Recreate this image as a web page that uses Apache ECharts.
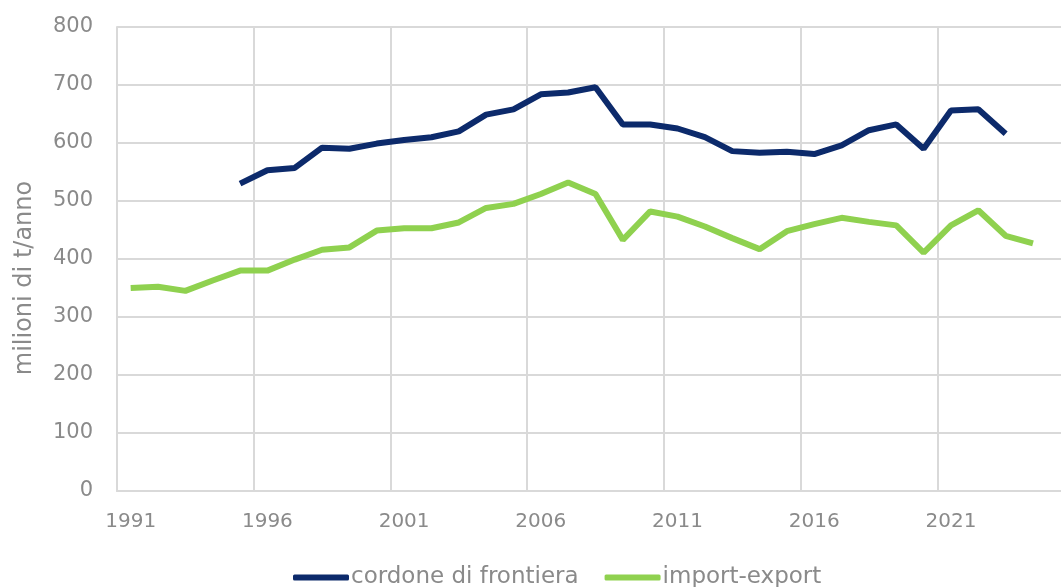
<!DOCTYPE html>
<html>
<head>
<meta charset="utf-8">
<script src="https://cdn.jsdelivr.net/npm/echarts@6/dist/echarts.min.js"></script>
<style>html,body{margin:0;padding:0;background:#fff;overflow:hidden;width:1061px;height:587px;}#c{width:1090px;height:587px;}</style>
</head>
<body>
<div id="c"></div>
<script>
var years = ['1991','1992','1993','1994','1995','1996','1997','1998','1999','2000','2001','2002','2003','2004','2005','2006','2007','2008','2009','2010','2011','2012','2013','2014','2015','2016','2017','2018','2019','2020','2021','2022','2023','2024','2025'];
var cordone = [null,null,null,null,530,553,557,592,590,599,605,610,620,649,658,684,687,696,632,632,625,610,586,583,585,581,596,622,632,590,656,658,616,null,null];
var importExport = [350,352,345,363,380,380,399,416,420,449,453,453,463,488,495,512,532,512,433,482,473,456,436,417,448,460,471,464,458,411,458,484,440,427,null];
var yTicks = [0,100,200,300,400,500,600,700,800];
var seriesNames = ['cordone di frontiera','import-export'];
var yName = 'milioni di t/anno';

var FONT = '"DejaVu Sans"';
var TXT = '#8a8a8a';
var chart = echarts.init(document.getElementById('c'));
chart.setOption({
  animation: false,
  backgroundColor: '#ffffff',
  grid: {left: 117, top: 27, height: 464, width: 957, containLabel: false},
  legend: {
    top: 561, left: 288,
    itemWidth: 56, itemHeight: 6, itemGap: 26,
    icon: 'roundRect',
    textStyle: {fontFamily: FONT, fontSize: 23, color: TXT, padding: [0,0,0,-3]},
    data: seriesNames
  },
  xAxis: {
    type: 'category', data: years, boundaryGap: true,
    axisLine: {show: true, lineStyle: {color: '#d9d9d9', width: 2}},
    axisTick: {show: false},
    axisLabel: {interval: 4, color: TXT, fontFamily: FONT, fontSize: 20, margin: 21},
    splitLine: {show: true, interval: 4, lineStyle: {color: '#d9d9d9', width: 2}}
  },
  yAxis: {
    type: 'value', min: yTicks[0], max: yTicks[yTicks.length-1], interval: 100,
    axisLine: {show: true, lineStyle: {color: '#d9d9d9', width: 2}},
    axisTick: {show: false},
    axisLabel: {color: TXT, fontFamily: FONT, fontSize: 21, margin: 24},
    splitLine: {show: true, lineStyle: {color: '#d9d9d9', width: 2}}
  },
  graphic: [{
    type: 'text',
    rotation: Math.PI/2,
    x: 25, y: 278,
    style: {text: yName, fill: TXT, fontFamily: 'DejaVu Sans', fontSize: 24, align: 'center', verticalAlign: 'middle'}
  }],
  series: [
    {name: seriesNames[0], type: 'line', data: cordone, showSymbol: false, symbol: 'none',
     lineStyle: {color: '#0c2a6b', width: 6}, itemStyle: {color: '#0c2a6b'}},
    {name: seriesNames[1], type: 'line', data: importExport, showSymbol: false, symbol: 'none',
     lineStyle: {color: '#8fd14f', width: 6}, itemStyle: {color: '#8fd14f'}}
  ]
});
</script>
</body>
</html>
